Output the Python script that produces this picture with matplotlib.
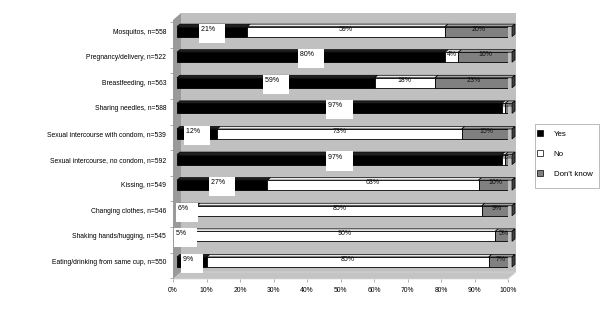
import matplotlib
matplotlib.use('Agg')
import matplotlib.pyplot as plt
from matplotlib.patches import Polygon, Patch, Rectangle
from matplotlib.transforms import ScaledTranslation
import numpy as np

categories = ["Mosquitos, n=558", "Pregnancy/delivery, n=522", "Breastfeeding, n=563",
              "Sharing needles, n=588", "Sexual intercourse with condom, n=539",
              "Sexual intercourse, no condom, n=592", "Kissing, n=549",
              "Changing clothes, n=546", "Shaking hands/hugging, n=545",
              "Eating/drinking from same cup, n=550"]
yes = [21, 80, 59, 97, 12, 97, 27, 6, 5, 9]
no = [59, 4, 18, 1, 73, 1, 63, 85, 90, 85]
dont_know = [20, 16, 23, 2, 15, 2, 10, 9, 5, 7]
series_names = ["Yes", "No", "Don't know"]
xticks = list(range(0, 101, 10))
xtick_labels = [f"{t}%" for t in xticks]

plt.rcParams['font.family'] = ['Liberation Sans', 'DejaVu Sans']
W, H, DPI = 600, 312, 100
fig = plt.figure(figsize=(W / DPI, H / DPI), dpi=DPI)
ax_l, ax_r, ax_t, ax_b = 173, 508, 20, 279
ax = fig.add_axes([ax_l / W, 1 - ax_b / H, (ax_r - ax_l) / W, (ax_b - ax_t) / H])
ax.set_xlim(0, 100)
ax.set_ylim(9.53, -0.59)
ax.set_facecolor('none')
for s in ax.spines.values():
    s.set_visible(False)

px_x = 100 / (ax_r - ax_l)      # data units per pixel (x)
px_y = 10.12 / (ax_b - ax_t)    # data units per pixel (y)

def shift(dx_px, dy_px):
    return ScaledTranslation(dx_px / DPI, dy_px / DPI, fig.dpi_scale_trans)

# 3D walls
Dx, Dy = 8 / (ax_r - ax_l), 7 / (ax_b - ax_t)
ax.add_patch(Polygon([(Dx, Dy), (1 + Dx, Dy), (1 + Dx, 1 + Dy), (Dx, 1 + Dy)], closed=True,
                     transform=ax.transAxes, fc='#c0c0c0', ec='none', clip_on=False, zorder=0))
ax.add_patch(Polygon([(0, 0), (1, 0), (1 + Dx, Dy), (Dx, Dy)], closed=True,
                     transform=ax.transAxes, fc='#c4c4c4', ec='#d8d8d8', lw=0.5, clip_on=False, zorder=0))
ax.add_patch(Polygon([(0, 0), (Dx, Dy), (Dx, 1 + Dy), (0, 1)], closed=True,
                     transform=ax.transAxes, fc='#9a9a9a', ec='none', clip_on=False, zorder=0))

bar_tr = ax.transData + shift(4, 3.5)

y = np.arange(len(categories))
data = np.array([yes, no, dont_know], dtype=float)
totals = data.sum(axis=0)
norm = data / totals * 100
front = ['black', 'white', '#808080']
top = ['#202020', '#e8e8e8', '#a0a0a0']
h = 10 * px_y
ddx, ddy = 3 * px_x, 2.5 * px_y

left = np.zeros(len(categories))
for k in range(3):
    bars = ax.barh(y, norm[k], left=left, height=h, color=front[k], edgecolor='black',
                   linewidth=0.6, zorder=3)
    for b in bars:
        b.set_transform(bar_tr)
    for i in range(len(categories)):
        x0, x1 = left[i], left[i] + norm[k][i]
        yt = y[i] - h / 2
        ax.add_patch(Polygon([(x0, yt), (x1, yt), (x1 + ddx, yt - ddy), (x0 + ddx, yt - ddy)],
                             closed=True, transform=bar_tr, fc=top[k], ec='black', lw=0.5,
                             zorder=3, clip_on=False))
        if k == 2:
            yb = y[i] + h / 2
            ax.add_patch(Polygon([(x1, yt), (x1 + ddx, yt - ddy), (x1 + ddx, yb - ddy), (x1, yb)],
                                 closed=True, transform=bar_tr, fc='#404040', ec='black', lw=0.5,
                                 zorder=3, clip_on=False))
        cx = (x0 + x1) / 2
        val = int(data[k][i])
        if k == 0:
            ax.text(cx, y[i], f"{val}%    \n", transform=bar_tr + shift(0, -1.5),
                    ha='center', va='center', multialignment='left', fontsize=5,
                    bbox=dict(fc='white', ec='none', pad=1.5), zorder=5)
        elif norm[k][i] < 3:
            # tiny segments: keep both labels readable side by side
            if k == 1:
                ax.text(x1, y[i], f"{val}%", transform=bar_tr + shift(0, 2.5),
                        ha='right', va='center', fontsize=3.6, color='#101010', zorder=4)
            else:
                ax.text(x0, y[i], f"{val}%", transform=bar_tr + shift(0.5, 2.5),
                        ha='left', va='center', fontsize=3.6, color='#101010', zorder=4)
        else:
            ax.text(cx, y[i], f"{val}%", transform=bar_tr + shift(0, 2.5),
                    ha='center', va='center', fontsize=5, color='#101010', zorder=4)
    left = left + norm[k]

# category labels sit level with the bars (which are drawn half a depth further back)
ax.set_yticks(y - 4 * px_y)
ax.set_yticklabels(categories, fontsize=4.9)
ax.set_yticks(np.append(y - 0.5, y[-1] + 0.5), minor=True)
ax.tick_params(axis='y', which='major', length=0, pad=5)
ax.tick_params(axis='y', which='minor', length=2.5, width=0.5, color='#909090')
ax.set_xticks(xticks)
ax.set_xticklabels(xtick_labels, fontsize=4.9)
ax.tick_params(axis='x', length=2.5, width=0.5, color='#909090', pad=3)

# legend box
fig.patches.append(Rectangle((535 / W, 1 - 188 / H), 64 / W, 64 / H, transform=fig.transFigure,
                             fc='white', ec='#a0a0a0', lw=0.5))
handles = [Patch(fc=front[k], ec='black', lw=0.5) for k in range(3)]
leg = fig.legend(handles, series_names, loc='upper left', bbox_to_anchor=(537 / W, 1 - 130 / H),
                 frameon=False, fontsize=5.7,
                 handlelength=0.7, handleheight=0.7, handletextpad=1.4, labelspacing=1.6,
                 borderpad=0, borderaxespad=0)

fig.savefig('out.png', dpi=DPI)
